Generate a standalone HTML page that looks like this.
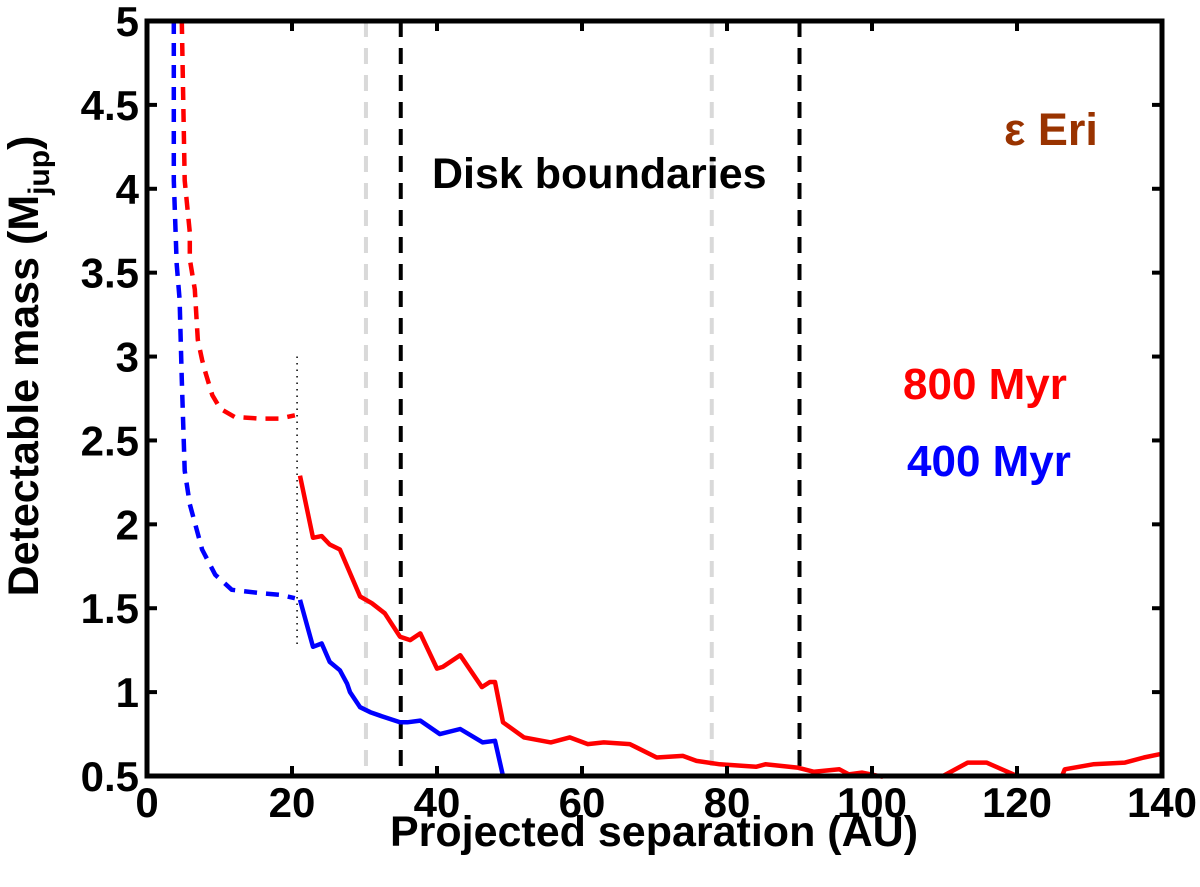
<!DOCTYPE html>
<html><head><meta charset="utf-8"><style>
body{margin:0;background:#fff}
svg text{font-family:"Liberation Sans",Arial,sans-serif;font-weight:bold}
</style></head><body>
<svg id="chart" width="1200" height="882" viewBox="0 0 1200 882" xmlns="http://www.w3.org/2000/svg">
<g id="marks"></g>
<rect x="147" y="21" width="1015" height="755" fill="none" stroke="#000" stroke-width="5"/>
<g id="ticks"></g>
<text x="654" y="846" font-size="43" text-anchor="middle">Projected separation (AU)</text>
<text transform="translate(38,366) rotate(-90)" font-size="43" text-anchor="middle">Detectable mass (M<tspan font-size="30" dy="11">jup</tspan><tspan dy="-11">)</tspan></text>
<text x="1004" y="145" font-size="45" fill="#993300">ε Eri</text>
<text x="432" y="188" font-size="43">Disk boundaries</text>
<text x="903" y="399" font-size="44" fill="#ff0000">800 Myr</text>
<text x="907" y="476" font-size="44" fill="#0000ff">400 Myr</text>
</svg>
<script>
const xTicks=[0,20,40,60,80,100,120,140];
const yTicks=[0.5,1,1.5,2,2.5,3,3.5,4,4.5,5];
const yTickLabels=["0.5","1","1.5","2","2.5","3","3.5","4","4.5","5"];
const diskLinesGray=[30.2,77.9];
const diskLinesBlack=[35,90];
const redDashX=[4.8,5.2,5.9,5.9,6.6,7.0,7.6,8.1,9.0,10.1,12.1,15.6,18.3,20.4];
const redDashY=[5.0,4.05,3.74,3.58,3.4,3.1,2.98,2.9,2.77,2.69,2.64,2.63,2.63,2.65];
const blueDashX=[3.7,3.7,4.1,4.5,4.8,5.2,5.9,7.6,9.4,11.7,15.6,18.3,20.4];
const blueDashY=[5.0,4.05,3.55,3.34,2.86,2.32,2.12,1.85,1.70,1.61,1.59,1.58,1.56];
const redSolidX=[21.1,22.9,24.1,25.2,26.6,29.4,31,32.8,34.9,36.3,37.7,40,40.8,43.2,46.2,47.3,48,49.1,52.0,55.7,58.3,60.8,63.0,66.6,70.3,73.9,75.8,79.0,84.0,85.3,89.7,92.0,95.5,96.8,98.6,101.5];
const redSolidY=[2.29,1.92,1.93,1.88,1.85,1.57,1.53,1.47,1.33,1.31,1.35,1.14,1.15,1.22,1.03,1.06,1.06,0.82,0.73,0.70,0.73,0.69,0.70,0.69,0.61,0.62,0.59,0.57,0.555,0.57,0.55,0.525,0.54,0.51,0.52,0.495];
const redBumpX=[109.8,113.2,115.8,120];
const redBumpY=[0.5,0.58,0.58,0.5];
const redTailX=[126.2,126.6,130.5,134.9,137.5,139.7];
const redTailY=[0.5,0.54,0.57,0.58,0.61,0.63];
const blueSolidX=[21.1,22.9,24.1,25.2,26.6,27.6,28.0,29.4,30.8,32.8,34.9,35.9,37.7,40.4,43.2,46.3,48.0,49.1];
const blueSolidY=[1.55,1.27,1.29,1.18,1.13,1.05,1.0,0.91,0.88,0.85,0.82,0.82,0.83,0.75,0.78,0.70,0.71,0.5];
const dividerX=[20.7];const dividerY=[3.0,1.28];

const X0=147,X1=1162,Y0=776,Y1=21;
const sx=v=>X0+(v-0)/(140-0)*(X1-X0);
const sy=v=>Y0-(v-0.5)/(5-0.5)*(Y0-Y1);
const NS="http://www.w3.org/2000/svg";
const marks=document.getElementById('marks'),ticks=document.getElementById('ticks');
function mk(tag,attrs,parent){const e=document.createElementNS(NS,tag);for(const k in attrs)e.setAttribute(k,attrs[k]);parent.appendChild(e);return e;}
diskLinesGray.forEach(v=>{const l=mk('line',{x1:sx(v),x2:sx(v),y1:Y1,y2:Y0,stroke:'#d9d9d9','stroke-width':4,'stroke-dasharray':'16 11'},marks);

});
diskLinesBlack.forEach(v=>{const l=mk('line',{x1:sx(v),x2:sx(v),y1:Y1,y2:Y0,stroke:'#000','stroke-width':4,'stroke-dasharray':'16 11'},marks);

});
const dv=mk('line',{x1:sx(dividerX[0]),x2:sx(dividerX[0]),y1:sy(dividerY[0]),y2:sy(dividerY[1]),stroke:'#000','stroke-width':1.5,'stroke-dasharray':'1.5 5'},marks);


function series(xs,ys,color,dash,name){const d=xs.map((x,i)=>(i?'L':'M')+sx(x).toFixed(1)+','+sy(ys[i]).toFixed(1)).join('');
const p=mk('path',{d:d,fill:'none',stroke:color,'stroke-width':4.5,'stroke-linejoin':'round'},marks);
if(dash)p.setAttribute('stroke-dasharray',dash);

}
series(redDashX,redDashY,'#ff0000','13 9','red-800myr-dashed');
series(blueDashX,blueDashY,'#0000ff','13 9','blue-400myr-dashed');
series(redSolidX,redSolidY,'#ff0000',null,'red-800myr-solid');
series(redBumpX,redBumpY,'#ff0000',null,'red-800myr-bump');
series(redTailX,redTailY,'#ff0000',null,'red-800myr-tail');
series(blueSolidX,blueSolidY,'#0000ff',null,'blue-400myr-solid');
xTicks.forEach(v=>{mk('line',{x1:sx(v),x2:sx(v),y1:Y0,y2:Y0-10,stroke:'#000','stroke-width':4},ticks);
mk('line',{x1:sx(v),x2:sx(v),y1:Y1,y2:Y1+10,stroke:'#000','stroke-width':4},ticks);
const t=mk('text',{x:sx(v),y:817,'font-size':42,'text-anchor':'middle'},ticks);t.textContent=v;

});
yTicks.forEach((v,i)=>{mk('line',{x1:X0,x2:X0+10,y1:sy(v),y2:sy(v),stroke:'#000','stroke-width':4},ticks);
mk('line',{x1:X1,x2:X1-10,y1:sy(v),y2:sy(v),stroke:'#000','stroke-width':4},ticks);
const t=mk('text',{x:139,y:sy(v)+15,'font-size':42,'text-anchor':'end'},ticks);t.textContent=yTickLabels[i];

});
</script>
</body></html>
